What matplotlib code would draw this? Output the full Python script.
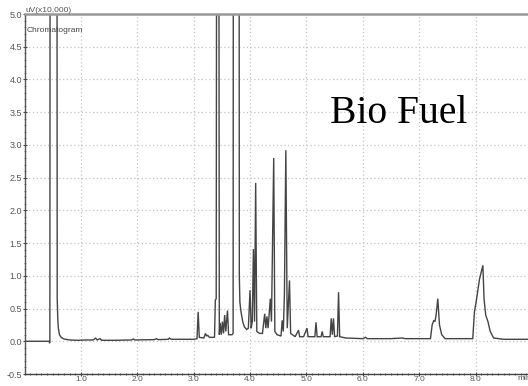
import matplotlib
matplotlib.use("Agg")
import matplotlib.pyplot as plt
from matplotlib.ticker import MultipleLocator, FixedLocator

plt.rcParams['font.family'] = ['Liberation Sans', 'DejaVu Sans']

# Retention time (min) and signal (uV x10,000)
time_min = [0.00, 0.44, 0.445, 0.45, 0.455, 0.575, 0.58, 0.59, 0.60, 0.62, 0.65, 0.70, 0.80, 0.95,
            1.10, 1.22, 1.26, 1.29, 1.34, 1.37, 1.60, 1.90, 1.93, 1.96, 2.30, 2.34, 2.37, 2.55,
            2.57, 2.60, 2.80, 3.00, 3.06, 3.08, 3.10, 3.18, 3.21, 3.23, 3.25, 3.28, 3.35, 3.37,
            3.385, 3.40, 3.41, 3.445, 3.455, 3.47, 3.49, 3.51, 3.53, 3.55, 3.57, 3.60, 3.62,
            3.68, 3.70, 3.705, 3.805, 3.81, 3.82, 3.84, 3.87, 3.90, 3.94, 3.97, 4.00, 4.02,
            4.04, 4.06, 4.08, 4.10, 4.12, 4.17, 4.22, 4.26, 4.28, 4.30, 4.32, 4.36, 4.38, 4.40,
            4.42, 4.44, 4.48, 4.55, 4.57, 4.59, 4.61, 4.635, 4.66, 4.70, 4.72, 4.80, 4.86, 4.88,
            4.95, 5.01, 5.03, 5.15, 5.17, 5.19, 5.26, 5.28, 5.30, 5.42, 5.44, 5.46, 5.48, 5.50,
            5.55, 5.57, 5.59, 5.70, 6.00, 6.05, 6.08, 6.50, 6.70, 6.75, 7.20, 7.23, 7.26, 7.28,
            7.30, 7.33, 7.36, 7.40, 7.46, 7.95, 7.98, 8.01, 8.07, 8.13, 8.15, 8.18, 8.22, 8.26,
            8.32, 8.50, 8.93]
signal = [0.00, 0.00, -0.03, 0.00, 9.0, 9.0, 0.65, 0.35, 0.20, 0.10, 0.06, 0.035, 0.02, 0.015,
          0.02, 0.02, 0.05, 0.02, 0.04, 0.015, 0.015, 0.02, 0.035, 0.02, 0.025, 0.04, 0.025, 0.03,
          0.05, 0.03, 0.03, 0.03, 0.04, 0.45, 0.06, 0.05, 0.12, 0.08, 0.09, 0.06, 0.06, 0.06,
          0.63, 0.65, 9.0, 9.0, 0.10, 0.28, 0.10, 0.30, 0.12, 0.40, 0.15, 0.47, 0.10,
          0.10, 0.12, 9.0, 9.0, 1.00, 0.60, 0.45, 0.30, 0.22, 0.18, 0.20, 0.78, 0.20,
          0.30, 1.41, 0.30, 2.42, 0.15, 0.12, 0.12, 0.42, 0.20, 0.38, 0.20, 0.65, 0.30, 1.50,
          2.80, 0.15, 0.10, 0.08, 0.32, 0.15, 0.73, 2.92, 0.20, 0.93, 0.12, 0.07, 0.17, 0.07,
          0.07, 0.20, 0.07, 0.07, 0.29, 0.07, 0.07, 0.15, 0.07, 0.07, 0.35, 0.10, 0.35, 0.07,
          0.08, 0.75, 0.07, 0.05, 0.04, 0.06, 0.04, 0.04, 0.05, 0.04, 0.04, 0.25, 0.32, 0.30,
          0.40, 0.65, 0.25, 0.10, 0.04, 0.04, 0.45, 0.60, 0.95, 1.16, 0.65, 0.40, 0.30, 0.15,
          0.05, 0.03, 0.03]

x_ticks = [1.0, 2.0, 3.0, 4.0, 5.0, 6.0, 7.0, 8.0]
x_tick_labels = ["1.0", "2.0", "3.0", "4.0", "5.0", "6.0", "7.0", "8.0"]
y_ticks = [-0.5, 0.0, 0.5, 1.0, 1.5, 2.0, 2.5, 3.0, 3.5, 4.0, 4.5, 5.0]
y_tick_labels = ["-0.5", "0.0", "0.5", "1.0", "1.5", "2.0", "2.5", "3.0", "3.5", "4.0", "4.5", "5.0"]

fig = plt.figure(figsize=(5.28, 3.86), dpi=100)
ax = fig.add_axes([24.5 / 528, 1 - 374 / 386, 1 - 24.5 / 528, (374 - 14) / 386])

ax.plot(time_min, signal, color="#444444", lw=1.0, solid_joinstyle="miter")

ax.set_xlim(0.0, 8.93)
ax.set_ylim(-0.5, 5.0)

ax.xaxis.set_major_locator(FixedLocator(x_ticks))
ax.set_xticklabels(x_tick_labels)
ax.yaxis.set_major_locator(FixedLocator(y_ticks))
ax.set_yticklabels(y_tick_labels)
ax.xaxis.set_minor_locator(MultipleLocator(0.1))
ax.yaxis.set_minor_locator(MultipleLocator(0.1))

ax.grid(True, which="major", color="#c4c4c4", linestyle=(0, (1, 2)), lw=0.9)

ax.tick_params(axis="x", which="major", direction="inout", length=3, width=0.8,
               pad=0.0, labelsize=6, labelcolor="#555555", color="#444444")
ax.tick_params(axis="x", which="minor", direction="inout", length=2, width=0.6, color="#444444")
ax.tick_params(axis="y", which="major", direction="inout", length=3, width=0.8,
               pad=0.3, labelsize=6.5, labelcolor="#555555", color="#444444")
ax.tick_params(axis="y", which="minor", direction="inout", length=2, width=0.6, color="#777777")

ax.spines["right"].set_visible(False)
ax.spines["top"].set_color("#999999")
ax.spines["top"].set_linewidth(1.8)
ax.spines["left"].set_color("#555555")
ax.spines["left"].set_linewidth(1.0)
ax.spines["bottom"].set_color("#444444")
ax.spines["bottom"].set_linewidth(1.0)

ax.text(0.002, 1.0, "uV(x10,000)", transform=ax.transAxes, ha="left", va="bottom",
        fontsize=6, color="#555555")
ax.text(0.004, 0.955, "Chromatogram", transform=ax.transAxes, ha="left", va="center",
        fontsize=6, color="#444444")
ax.text(8.74, -0.515, "min", ha="left", va="top", fontsize=6, color="#555555")

fig.text(330 / 528, 1 - 123 / 386, "Bio Fuel", family=["Liberation Serif"],
         fontsize=28.5, color="black", ha="left", va="baseline")

fig.savefig("out.png", dpi=100)
